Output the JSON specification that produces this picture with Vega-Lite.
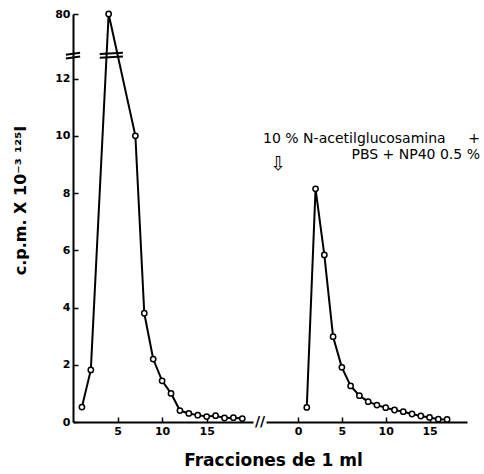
{
  "$schema": "https://vega.github.io/schema/vega-lite/v6.json",
  "background": "white",
  "padding": {"left": 12, "top": 8, "right": 0, "bottom": 0},
  "bounds": "flush",
  "spacing": 13,
  "config": {
    "view": {"stroke": null},
    "font": "DejaVu Sans",
    "axis": {
      "domainColor": "black", "domainWidth": 2,
      "tickColor": "black", "tickWidth": 1.5, "tickSize": -5,
      "labelColor": "black", "labelFont": "DejaVu Sans", "labelFontWeight": "bold", "labelFontSize": 11,
      "grid": false, "titleColor": "black", "titleFont": "DejaVu Sans"
    }
  },
  "datasets": {
    "elution": [
      {"segment": "A", "fraction": 1, "cpm": 0.52},
      {"segment": "A", "fraction": 2, "cpm": 1.82},
      {"segment": "A", "fraction": 4, "cpm": 80},
      {"segment": "A", "fraction": 7, "cpm": 10.0},
      {"segment": "A", "fraction": 8, "cpm": 3.8},
      {"segment": "A", "fraction": 9, "cpm": 2.2},
      {"segment": "A", "fraction": 10, "cpm": 1.44},
      {"segment": "A", "fraction": 11, "cpm": 1.0},
      {"segment": "A", "fraction": 12, "cpm": 0.4},
      {"segment": "A", "fraction": 13, "cpm": 0.3},
      {"segment": "A", "fraction": 14, "cpm": 0.24},
      {"segment": "A", "fraction": 15, "cpm": 0.19},
      {"segment": "A", "fraction": 16, "cpm": 0.22},
      {"segment": "A", "fraction": 17, "cpm": 0.14},
      {"segment": "A", "fraction": 18, "cpm": 0.15},
      {"segment": "A", "fraction": 19, "cpm": 0.12},
      {"segment": "B", "fraction": 1, "cpm": 0.51},
      {"segment": "B", "fraction": 2, "cpm": 8.15},
      {"segment": "B", "fraction": 3, "cpm": 5.84},
      {"segment": "B", "fraction": 4, "cpm": 2.98},
      {"segment": "B", "fraction": 5, "cpm": 1.91},
      {"segment": "B", "fraction": 6, "cpm": 1.26},
      {"segment": "B", "fraction": 7, "cpm": 0.92},
      {"segment": "B", "fraction": 8, "cpm": 0.71},
      {"segment": "B", "fraction": 9, "cpm": 0.59},
      {"segment": "B", "fraction": 10, "cpm": 0.5},
      {"segment": "B", "fraction": 11, "cpm": 0.42},
      {"segment": "B", "fraction": 12, "cpm": 0.36},
      {"segment": "B", "fraction": 13, "cpm": 0.28},
      {"segment": "B", "fraction": 14, "cpm": 0.21},
      {"segment": "B", "fraction": 15, "cpm": 0.16},
      {"segment": "B", "fraction": 16, "cpm": 0.1},
      {"segment": "B", "fraction": 17, "cpm": 0.09}
    ]
  },
  "resolve": {"scale": {"x": "independent", "y": "independent"}},
  "hconcat": [
    {
      "width": 180,
      "height": 410,
      "layer": [
        {
          "data": {"name": "elution"},
          "transform": [{"filter": "datum.segment === 'A'"}],
          "mark": {"type": "line", "color": "black", "strokeWidth": 2,
                   "point": {"type": "point", "filled": true, "fill": "white", "stroke": "black", "strokeWidth": 1.5, "size": 28, "opacity": 1}},
          "encoding": {
            "x": {"field": "fraction", "type": "quantitative",
                  "scale": {"domain": [0, 20.2], "nice": false, "zero": false},
                  "axis": {"values": [5, 10, 15], "labelPadding": 8, "title": "Fracciones de 1 ml",
                           "titleFontSize": 17, "titleFontWeight": "bold", "titleX": 200, "titleY": 43,
                           "titleBaseline": "alphabetic", "titleAlign": "center", "labelFlush": false}},
            "y": {"field": "cpm", "type": "quantitative",
                  "scale": {"domain": [0, 13, 80], "range": [410, 38, 2], "nice": false, "zero": false},
                  "axis": {"values": [0, 2, 4, 6, 8, 10, 12, 80], "labelPadding": 8,
                           "title": "c.p.m. X 10⁻³ ¹²⁵I", "titleFontSize": 16, "titleFontWeight": "bold",
                           "titleX": -53, "titleY": 188, "titleBaseline": "middle", "titleAlign": "center", "titleAngle": -90}}
          }
        },
        {
          "data": {"values": [
            {"x": -0.8, "x2": 0.8, "y": 12.83, "y2": 12.9},
            {"x": -0.8, "x2": 0.8, "y": 12.7, "y2": 12.77},
            {"x": 3.0, "x2": 5.6, "y": 12.86, "y2": 12.9},
            {"x": 3.0, "x2": 5.6, "y": 12.73, "y2": 12.77}
          ]},
          "mark": {"type": "rule", "color": "black", "strokeWidth": 2},
          "encoding": {
            "x": {"field": "x", "type": "quantitative"},
            "x2": {"field": "x2"},
            "y": {"field": "y", "type": "quantitative"},
            "y2": {"field": "y2"}
          }
        }
      ]
    },
    {
      "width": 201,
      "height": 410,
      "layer": [
        {
          "data": {"name": "elution"},
          "transform": [{"filter": "datum.segment === 'B'"}],
          "mark": {"type": "line", "color": "black", "strokeWidth": 2,
                   "point": {"type": "point", "filled": true, "fill": "white", "stroke": "black", "strokeWidth": 1.5, "size": 28, "opacity": 1}},
          "encoding": {
            "x": {"field": "fraction", "type": "quantitative",
                  "scale": {"domain": [-3.65, 19.27], "nice": false, "zero": false},
                  "axis": {"values": [0, 5, 10, 15], "labelPadding": 8, "title": null, "labelFlush": false}},
            "y": {"field": "cpm", "type": "quantitative",
                  "scale": {"domain": [0, 13, 80], "range": [410, 38, 2], "nice": false, "zero": false},
                  "axis": null}
          }
        },
        {
          "data": {"values": [{"x": -4.33, "y": 0, "label": "//"}]},
          "mark": {"type": "text", "fontSize": 14, "fontWeight": "bold", "color": "black", "baseline": "middle", "align": "center"},
          "encoding": {"x": {"field": "x", "type": "quantitative"}, "y": {"field": "y", "type": "quantitative"}, "text": {"field": "label"}}
        },
        {
          "data": {"values": [{"x": -2.3, "y": 9.03, "label": "⇩"}]},
          "mark": {"type": "text", "fontSize": 19, "color": "black", "baseline": "middle", "align": "center"},
          "encoding": {"x": {"field": "x", "type": "quantitative"}, "y": {"field": "y", "type": "quantitative"}, "text": {"field": "label"}}
        },
        {
          "data": {"values": [{"x": -3.99, "y": 9.76, "label": "10 % N-"}]},
          "mark": {"type": "text", "fontSize": 14, "color": "black", "baseline": "alphabetic", "align": "left"},
          "encoding": {"x": {"field": "x", "type": "quantitative"}, "y": {"field": "y", "type": "quantitative"}, "text": {"field": "label"}}
        },
        {
          "data": {"values": [{"x": 9.6, "y": 9.76, "label": "acetilglucosamina"}]},
          "mark": {"type": "text", "fontSize": 14, "color": "black", "baseline": "alphabetic", "align": "center"},
          "encoding": {"x": {"field": "x", "type": "quantitative"}, "y": {"field": "y", "type": "quantitative"}, "text": {"field": "label"}}
        },
        {
          "data": {"values": [{"x": 20.75, "y": 9.76, "label": "+"}, {"x": 20.75, "y": 9.2, "label": "PBS + NP40 0.5 %"}]},
          "mark": {"type": "text", "fontSize": 14, "color": "black", "baseline": "alphabetic", "align": "right"},
          "encoding": {"x": {"field": "x", "type": "quantitative"}, "y": {"field": "y", "type": "quantitative"}, "text": {"field": "label"}}
        }
      ]
    }
  ]
}
